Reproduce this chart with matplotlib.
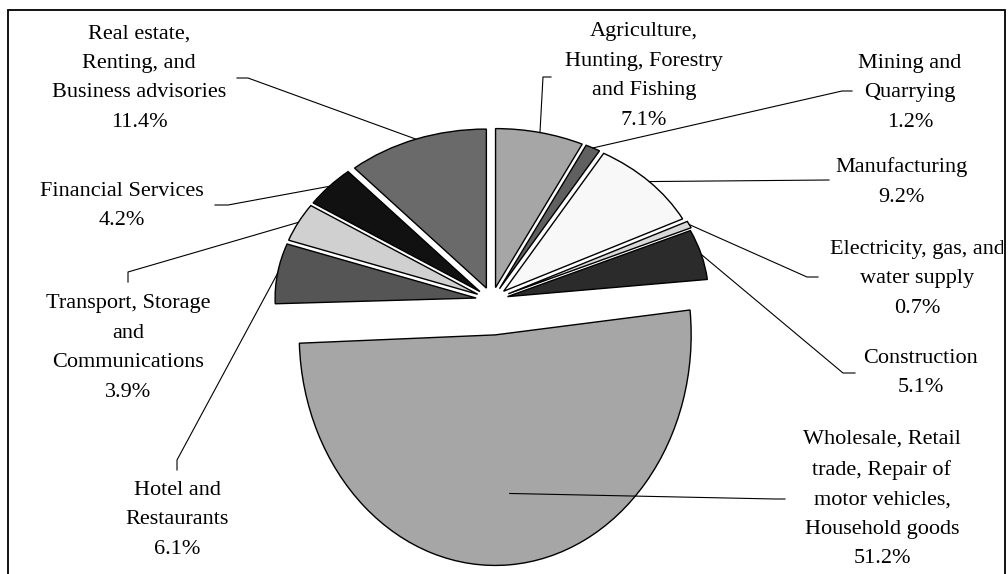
import numpy as np
import matplotlib
matplotlib.use('Agg')
import matplotlib.pyplot as plt
from matplotlib.transforms import Affine2D, Bbox, TransformedBbox

plt.rcParams['font.family'] = ['Liberation Serif', 'DejaVu Serif']

# Données : répartition par secteur (%)
sectors = ['Agriculture,\nHunting, Forestry\nand Fishing',
           'Mining and\nQuarrying',
           'Manufacturing',
           'Electricity, gas, and\nwater supply',
           'Construction',
           'Wholesale, Retail\ntrade, Repair of\nmotor vehicles,\nHousehold goods',
           'Hotel and\nRestaurants',
           'Transport, Storage\nand\nCommunications',
           'Financial Services',
           'Real estate,\nRenting, and\nBusiness advisories']
shares = [7.1, 1.2, 9.2, 0.7, 5.1, 51.2, 6.1, 3.9, 4.2, 11.4]
colors = ['#a6a6a6', '#606060', '#f8f8f8', '#d8d8d8', '#2b2b2b',
          '#a6a6a6', '#555555', '#d0d0d0', '#111111', '#6a6a6a']

# mise en page (pixels)
W, H = 1008, 574
cx, cy = 492, 300
rx, ry = 201, 159
explode = [0.08, 0.08, 0.08, 0.09, 0.08, 0.22, 0.08, 0.08, 0.08, 0.08]
label_pos = [(644, 76), (910, 93), (901, 182), (917, 279), (921, 373),
             (882, 499), (177, 520), (128, 348), (122, 206), (139, 78)]
# points de départ des traits de rappel (côté étiquette)
leader_start = [[(551, 77), (543, 77)], [(852, 91), (842, 91)], [(829, 180)],
                [(818, 277), (807, 277)], [(855, 373), (843, 373)],
                [(785, 499), (775, 499)], [(177, 470), (177, 460)],
                [(128, 282), (128, 272)], [(215, 205), (228, 205)],
                [(237, 78), (248, 78)]]

fig = plt.figure(figsize=(W / 100, H / 100), dpi=100)

pax = fig.add_axes([0, 0, 1, 1])
wedges, _ = pax.pie(shares, colors=colors, startangle=90, counterclock=False,
                    explode=explode, radius=1,
                    wedgeprops=dict(edgecolor='black', linewidth=1.0))
pax.set_aspect('auto')
pax.set_xlim(-cx / rx, (W - cx) / rx)
pax.set_ylim(-(H - cy) / ry, cy / ry)
pax.axis('off')

# la grosse part est déformée comme dans l'original
big = wedges[5]
c0, c1 = big.center
big.set_transform(Affine2D().translate(-c0, -c1).scale(0.975, 1.45)
                  .translate(c0, c1) + pax.transData)

ax = fig.add_axes([0, 0, 1, 1], facecolor='none')
ax.set_xlim(0, W)
ax.set_ylim(H, 0)
ax.axis('off')

# cadre
ax.plot([8, 8, 1005, 1005], [H + 5, 10, 10, H + 5], color='black', lw=1.3,
        clip_on=False, solid_joinstyle='miter')

clip = TransformedBbox(Bbox([[0, 0], [1003, H]]), ax.transData)

for i, w in enumerate(wedges):
    tm = np.deg2rad((w.theta1 + w.theta2) / 2)
    pt = (w.center[0] + w.r * np.cos(tm), w.center[1] + w.r * np.sin(tm))
    disp = pax.transData.transform(pt)
    anchor = ax.transData.inverted().transform(disp)
    pts = leader_start[i] + [tuple(anchor)]
    xs, ys = zip(*pts)
    ax.plot(xs, ys, color='black', lw=0.8)

    txt = ax.text(label_pos[i][0], label_pos[i][1],
                  sectors[i] + '\n' + f'{shares[i]:.1f}%',
                  ha='center', va='center', multialignment='center',
                  fontsize=16, linespacing=1.75, color='black')
    txt.set_clip_on(True)
    txt.set_clip_box(clip)

fig.savefig('out.png', dpi=100)
